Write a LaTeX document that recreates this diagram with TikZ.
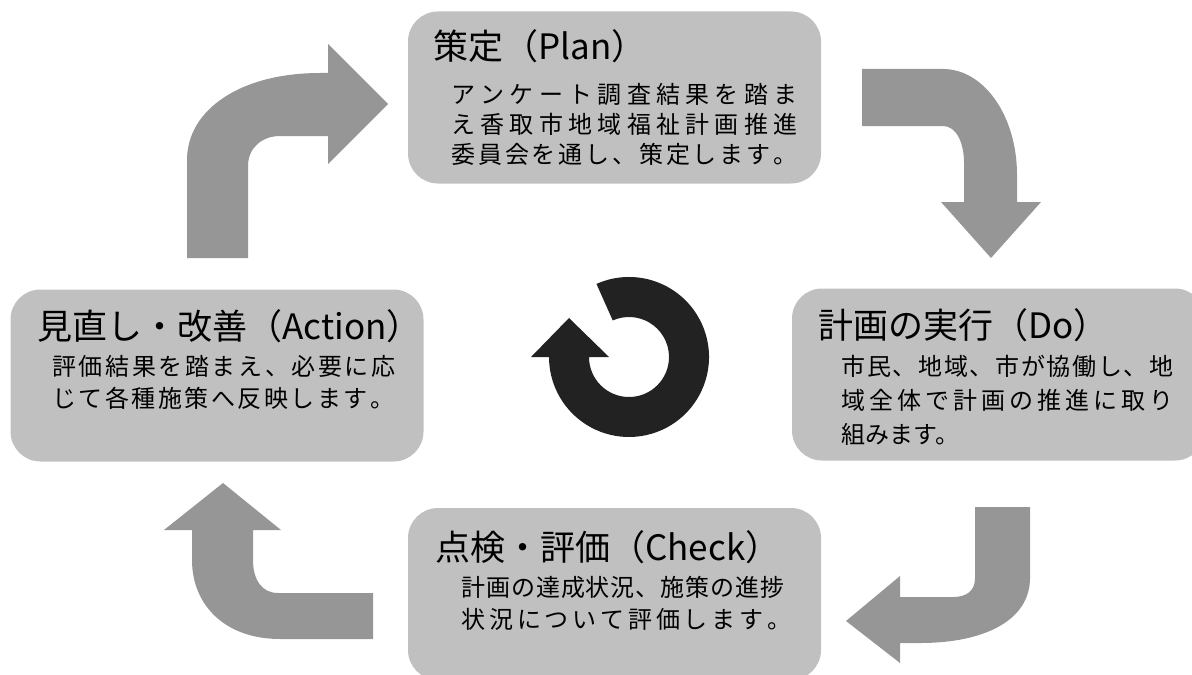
\documentclass[tikz,border=0pt]{standalone}
\usepackage{fontspec}
\setmainfont{Noto Sans CJK JP}
\usepackage{xcolor}
\definecolor{boxgray}{HTML}{C0C0C0}
\definecolor{arrowgray}{HTML}{969696}
\definecolor{ringdark}{HTML}{222222}
\ExplSyntaxOn
\NewDocumentCommand\spreadline{mm}{\hbox_to_wd:nn{#1}{\tl_map_inline:nn{#2}{##1\hfil}\unskip}}
\ExplSyntaxOff

\begin{document}
\begin{tikzpicture}[x=0.5pt,y=-0.5pt,
        stage/.style={fill=boxgray,rounded corners=15pt,minimum width=206.5pt,minimum height=86pt,inner sep=0pt},
        stagetitle/.style={anchor=west,inner sep=0pt,font=\fontsize{17.5pt}{20pt}\selectfont},
        stagetext/.style={anchor=west,inner sep=0pt,font=\fontsize{12pt}{14pt}\selectfont},
        bentarrow/.style={fill=arrowgray}]
        \useasboundingbox (0,0) rectangle (1192,674);
        \clip (0,0) rectangle (1192,674);
        % the four stages
        \node[stage] (plan) at (614.5,97.5) {};
        \node[stage] (do) at (998.5,374.5) {};
        \node[stage] (check) at (614.5,594) {};
        \node[stage] (action) at (217,375.5) {};
        % bent arrows between the stages
        \fill[bentarrow] (187,258) -- (187,160) .. controls (187,110) and (240,73) .. (320,73) -- (328,73) -- (328,44) -- (388,104) -- (328,164) -- (328,136) -- (280,136) .. controls (262,136) and (248,148) .. (248,166) -- (248,258) -- cycle;
        \fill[bentarrow] (862,69) -- (943,69) .. controls (984,69) and (1017,116) .. (1017,175) -- (1017,202) -- (1041,202) -- (991,258) -- (941,202) -- (964,202) -- (964,163) .. controls (964,142) and (956,126) .. (943,126) -- (862,126) -- cycle;
        \fill[bentarrow] (975,507) -- (1030,507) -- (1030,578) .. controls (1030,620) and (985,643) .. (920,643) -- (900,643) -- (900,663) -- (846,621) -- (900,576) -- (900,597) -- (953,597) .. controls (965,597) and (975,592) .. (975,578) -- cycle;
        \fill[bentarrow] (373,639) -- (280,639) .. controls (225,639) and (192,605) .. (192,560) -- (192,530) -- (164,530) -- (223,483) -- (281,530) -- (253,530) -- (253,560) .. controls (253,580) and (262,593) .. (278,593) -- (373,593) -- cycle;
        % circular arrow in the middle
        \fill[ringdark] (629,357) ++(-114:80) arc[start angle=-114,end angle=180,radius=80] -- (531,357) -- (569,318) -- (609,357) -- (589,357) arc[start angle=180,end angle=-114,radius=40] -- cycle;
        % texts
        \node[stagetitle] (plantitle) at (433,46) {策定（Plan）};
        \node[stagetext] (planline1) at (451,94) {\spreadline{173pt}{アンケート調査結果を踏ま}};
        \node[stagetext] (planline2) at (451,124) {\spreadline{173pt}{え香取市地域福祉計画推進}};
        \node[stagetext] (planline3) at (451,154) {\spreadline{173pt}{委員会を通し、策定します。}};
        \node[stagetitle] (dotitle) at (818,325) {計画の実行（Do）};
        \node[stagetext] (doline1) at (841,366) {\spreadline{166pt}{市民、地域、市が協働し、地}};
        \node[stagetext] (doline2) at (841,400) {\spreadline{166pt}{域全体で計画の推進に取り}};
        \node[stagetext] (doline3) at (841,434) {組みます。};
        \node[stagetitle] (checktitle) at (435,547) {点検・評価（Check）};
        \node[stagetext] (checkline1) at (461,587) {\spreadline{161.5pt}{計画の達成状況、施策の進捗}};
        \node[stagetext] (checkline2) at (461,619) {\spreadline{165pt}{状況について評価します。}};
        \node[stagetitle] (actiontitle) at (37,326) {見直し・改善（Action）};
        \node[stagetext] (actionline1) at (52,366) {\spreadline{171.5pt}{評価結果を踏まえ、必要に応}};
        \node[stagetext] (actionline2) at (52,398) {\spreadline{171pt}{じて各種施策へ反映します。}};
    \end{tikzpicture}
\end{document}
